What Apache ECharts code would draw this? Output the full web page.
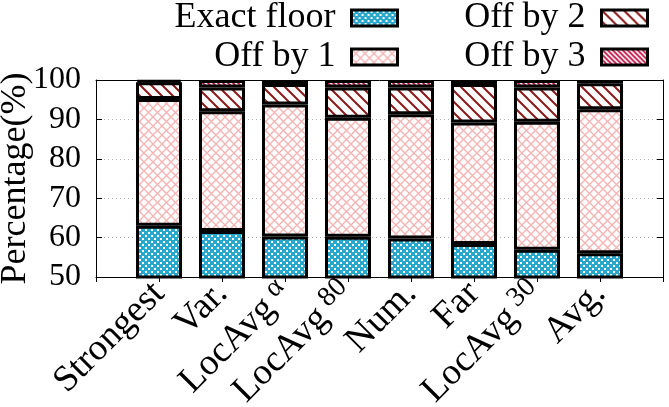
<!DOCTYPE html>
<html>
<head>
<meta charset="utf-8">
<script src="https://cdn.jsdelivr.net/npm/echarts@6/dist/echarts.min.js"></script>
<style>
  html, body { margin: 0; padding: 0; background: #fff; }
  #chart { width: 669px; height: 407px; }
</style>
</head>
<body>
<div id="chart"></div>
<script>
// bar groups, the superscript goes after the name
var categories = ['Strongest', 'Var.', 'LocAvg', 'LocAvg', 'Num.', 'Far', 'LocAvg', 'Avg.'];
var superscripts = ['', '', 'α', '80', '', '', '30', ''];

// percentage of samples per error class
var exactFloor = [63.0, 61.7, 60.3, 60.2, 59.8, 58.4, 56.9, 56.0];
var offBy1 = [32.2, 30.4, 33.5, 30.2, 31.5, 30.8, 32.5, 36.6];
var offBy2 = [4.2, 6.0, 5.2, 7.7, 6.8, 9.8, 8.7, 6.6];
var offBy3 = [0.6, 1.9, 1.0, 1.9, 1.9, 1.0, 1.9, 0.8];

var yTicks = [50, 60, 70, 80, 90, 100];

var FONT = '"Liberation Serif", "DejaVu Serif", serif';

function makePattern(size, draw) {
  var c = document.createElement('canvas');
  c.width = size;
  c.height = size;
  var ctx = c.getContext('2d');
  draw(ctx, size);
  return { image: c, repeat: 'repeat' };
}

// cyan with little white dots
var dotsFill = makePattern(6, function (ctx, s) {
  ctx.fillStyle = '#27a8cc';
  ctx.fillRect(0, 0, s, s);
  ctx.fillStyle = '#ffffff';
  ctx.fillRect(1, 1, 2, 2);
  ctx.fillRect(4, 4, 2, 2);
});

// pink cross hatch
var crossFill = makePattern(9, function (ctx, s) {
  ctx.fillStyle = '#fff';
  ctx.fillRect(0, 0, s, s);
  ctx.strokeStyle = '#f4b4b4';
  ctx.lineWidth = 1.4;
  ctx.beginPath();
  ctx.moveTo(-1, -1); ctx.lineTo(s + 1, s + 1);
  ctx.moveTo(-1, s + 1); ctx.lineTo(s + 1, -1);
  ctx.stroke();
});

function backslashes(size, color, width) {
  return makePattern(size, function (ctx, s) {
    ctx.fillStyle = '#fff';
    ctx.fillRect(0, 0, s, s);
    ctx.strokeStyle = color;
    ctx.lineWidth = width;
    ctx.beginPath();
    ctx.moveTo(-1, -1); ctx.lineTo(s + 1, s + 1);
    ctx.moveTo(-1, s - 1); ctx.lineTo(1, s + 1);
    ctx.moveTo(s - 1, -1); ctx.lineTo(s + 1, 1);
    ctx.stroke();
  });
}

var wideStripes = backslashes(11, '#8b1a1a', 2);
var thinStripes = backslashes(5, '#c70f45', 1.8);

// an empty slot at each end so the frame runs one step past the outer bars
var axisSlots = [''].concat(categories).concat(['']);
function padded(values) {
  return ['-'].concat(values).concat(['-']);
}

var chart = echarts.init(document.getElementById('chart'), null, { renderer: 'canvas' });

function barSeries(name, values, fill) {
  return {
    name: name,
    type: 'bar',
    stack: 'total',
    barWidth: 46,
    data: padded(values),
    itemStyle: { color: fill, borderColor: '#000', borderWidth: 3 },
    emphasis: { disabled: true }
  };
}

function legendBox(name, right, top) {
  return {
    data: [name],
    orient: 'vertical',
    align: 'right',
    right: right,
    top: top,
    padding: 0,
    icon: 'rect',
    itemWidth: 46,
    itemHeight: 16,
    selectedMode: false,
    itemStyle: { borderColor: '#000', borderWidth: 3 },
    textStyle: { fontFamily: FONT, fontSize: 36, color: '#000', lineHeight: 38, padding: [0, 11, 0, 0] }
  };
}

var option = {
  animation: false,
  backgroundColor: '#fff',
  grid: { left: 96, right: 6, top: 80, bottom: 130, containLabel: false, outerBoundsMode: 'none' },
  legend: [
    legendBox('Exact floor', 270, -1),
    legendBox('Off by 1', 270, 38),
    legendBox('Off by 2', 20, -1),
    legendBox('Off by 3', 20, 38)
  ],
  xAxis: [
    {
      type: 'category',
      data: axisSlots,
      boundaryGap: false,
      position: 'bottom',
      splitLine: { show: false },
      axisLine: { show: true, onZero: false, lineStyle: { color: '#000', width: 1 } },
      axisTick: { show: true, inside: false, length: 5, interval: 0, lineStyle: { color: '#000' } },
      axisLabel: {
        rotate: 45,
        margin: 11,
        interval: 0,
        formatter: function (value, index) {
          var i = index - 1;
          if (i < 0 || i >= categories.length) return '';
          if (superscripts[i]) return '{m|' + categories[i] + '}{s|' + superscripts[i] + '}';
          return '{m|' + categories[i] + '}';
        },
        rich: {
          m: { fontFamily: FONT, fontSize: 37, color: '#000' },
          s: { fontFamily: FONT, fontSize: 28, color: '#000', verticalAlign: 'top', padding: [0, 0, 15, 7] }
        }
      }
    },
    {
      type: 'category',
      data: axisSlots,
      boundaryGap: false,
      position: 'top',
      axisLine: { show: true, onZero: false, lineStyle: { color: '#000', width: 1 } },
      axisTick: { show: false },
      axisLabel: { show: false },
      splitLine: { show: false }
    }
  ],
  yAxis: [
    {
      type: 'value',
      min: 50,
      max: 100,
      interval: 10,
      name: 'Percentage(%)',
      nameLocation: 'middle',
      nameGap: 62,
      nameMoveOverlap: false,
      nameTextStyle: { fontFamily: FONT, fontSize: 36, color: '#000' },
      axisLine: { show: true, onZero: false, lineStyle: { color: '#000', width: 1 } },
      axisTick: { show: true, inside: true, length: 6, lineStyle: { color: '#000' } },
      axisLabel: {
        margin: 15,
        fontFamily: FONT,
        fontSize: 32,
        color: '#000',
        formatter: function (v) { return yTicks.indexOf(v) >= 0 ? String(v) : ''; }
      },
      splitLine: { show: true, lineStyle: { color: '#b0b0b0', type: [1, 3], width: 1 } }
    },
    {
      type: 'value',
      min: 50,
      max: 100,
      interval: 10,
      position: 'right',
      axisLine: { show: true, onZero: false, lineStyle: { color: '#000', width: 1 } },
      axisTick: { show: true, inside: true, length: 6, lineStyle: { color: '#000' } },
      axisLabel: { show: false },
      splitLine: { show: false }
    }
  ],
  series: [
    barSeries('Exact floor', exactFloor, dotsFill),
    barSeries('Off by 1', offBy1, crossFill),
    barSeries('Off by 2', offBy2, wideStripes),
    barSeries('Off by 3', offBy3, thinStripes)
  ]
};

chart.setOption(option);
</script>
</body>
</html>
